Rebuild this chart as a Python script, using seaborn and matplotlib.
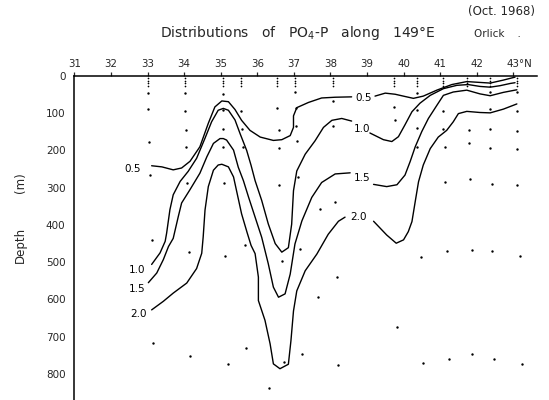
import matplotlib
matplotlib.use("Agg")
import matplotlib.pyplot as plt
import matplotlib.transforms as mtransforms
import pandas as pd
import seaborn as sns

# Isolines of PO4-P (ug-at/l), traced as latitude (deg N) / depth (m).
# Each isoline is split in two where its label sits.
c05_a_lat = [33.11, 33.39, 33.70, 33.93, 34.16, 34.43, 34.66, 34.84, 35.03, 35.21, 35.39, 35.57,
             35.80, 36.08, 36.44, 36.67, 36.90, 36.99, 36.99, 37.08, 37.40, 37.76, 38.13, 38.58]
c05_a_dep = [241, 244, 252, 247, 229, 190, 127, 83, 67, 69, 90, 119,
             146, 164, 173, 171, 160, 138, 107, 85, 71, 59, 57, 56]
c05_b_lat = [39.22, 39.50, 39.77, 40.04, 40.27, 40.54, 40.91, 41.32, 41.73, 42.05, 42.37, 42.73, 43.05]
c05_b_dep = [54, 46, 49, 55, 60, 54, 38, 23, 15, 17, 19, 11, 3]

c10_a_lat = [33.11, 33.34, 33.48, 33.52, 33.61, 33.70, 33.89, 34.11, 34.34, 34.57, 34.75, 34.93,
             35.07, 35.21, 35.39, 35.53, 35.71, 35.83, 35.94, 36.12, 36.30, 36.49, 36.67, 36.85,
             36.94, 36.99, 37.08, 37.31, 37.58, 37.81, 38.04, 38.31, 38.58]
c10_a_dep = [506, 475, 444, 422, 359, 319, 283, 256, 221, 167, 123, 92,
             87, 92, 118, 155, 200, 240, 281, 334, 397, 450, 473, 461,
             398, 308, 255, 210, 174, 138, 119, 114, 121]
c10_b_lat = [39.08, 39.45, 39.68, 39.86, 40.04, 40.23, 40.45, 40.73, 41.09, 41.46, 41.77, 42.09,
             42.37, 42.64, 42.92, 43.05]
c10_b_dep = [153, 171, 176, 163, 131, 96, 73, 52, 34, 25, 23, 28, 30, 26, 20, 18]

c15_a_lat = [33.02, 33.25, 33.43, 33.57, 33.70, 33.84, 33.93, 34.16, 34.43, 34.62, 34.80, 34.98,
             35.07, 35.16, 35.35, 35.48, 35.62, 35.76, 35.94, 36.12, 36.30, 36.44, 36.58, 36.76,
             36.90, 37.03, 37.22, 37.49, 37.76, 38.13, 38.54]
c15_a_dep = [555, 529, 493, 458, 436, 377, 341, 305, 261, 217, 181, 168,
             168, 172, 199, 245, 281, 325, 379, 433, 504, 567, 594, 585,
             532, 451, 389, 326, 286, 263, 260]
c15_b_lat = [39.18, 39.54, 39.82, 40.04, 40.18, 40.32, 40.50, 40.68, 40.91, 41.09, 41.36, 41.73,
             42.09, 42.37, 42.73, 43.10]
c15_b_dep = [291, 297, 292, 266, 230, 190, 149, 114, 79, 52, 43, 38, 48, 53, 44, 37]

c20_a_lat = [33.11, 33.43, 33.70, 34.07, 34.34, 34.48, 34.52, 34.57, 34.66, 34.80, 34.93, 35.03,
             35.21, 35.35, 35.45, 35.57, 35.72, 35.83, 35.94, 36.03, 36.03, 36.21, 36.35, 36.44,
             36.62, 36.85, 36.92, 36.99, 37.08, 37.31, 37.63, 37.94, 38.22, 38.40]
c20_a_dep = [628, 605, 583, 556, 517, 476, 432, 360, 297, 253, 239, 237,
             244, 271, 316, 370, 420, 455, 477, 540, 603, 656, 719, 773,
             786, 774, 711, 631, 577, 523, 478, 425, 390, 379]
c20_b_lat = [39.18, 39.54, 39.80, 40.00, 40.13, 40.23, 40.32, 40.41, 40.54, 40.73, 40.95, 41.18,
             41.36, 41.50, 41.73, 42.09, 42.37, 42.73, 43.10]
c20_b_dep = [390, 427, 449, 440, 418, 391, 337, 284, 239, 195, 164, 146,
             123, 101, 95, 98, 99, 89, 75]

# isoline labels
label_text = ["0.5", "1.0", "1.5", "2.0", "0.5", "1.0", "1.5", "2.0"]
label_lat = [32.59, 32.70, 32.70, 32.75, 38.92, 38.87, 38.86, 38.77]
label_dep = [251, 520, 572, 638, 58, 142, 274, 379]

# sampling points (bottle depths)
dot_lat = [33.00, 33.00, 33.04, 33.07, 33.11, 33.14,
           34.02, 34.02, 34.04, 34.06, 34.07, 34.13, 34.16,
           35.05, 35.05, 35.05, 35.06, 35.08, 35.13, 35.19,
           35.55, 35.57, 35.60, 35.65, 35.69,
           36.55, 36.58, 36.58, 36.60, 36.68, 36.74, 36.32,
           37.03, 37.05, 37.07, 37.08, 37.10, 37.17, 37.22,
           37.72, 37.65,
           38.08, 38.08, 38.13, 38.17, 38.22,
           39.74, 39.77, 39.82,
           40.36, 40.38, 40.37, 40.38, 40.48, 40.52,
           41.09, 41.09, 41.14, 41.14, 41.19, 41.25,
           41.79, 41.79, 41.82, 41.86, 41.88,
           42.37, 42.37, 42.37, 42.37, 42.42, 42.42, 42.48,
           43.10, 43.10, 43.09, 43.09, 43.11, 43.19, 43.25]
dot_dep = [45, 88, 178, 265, 440, 717,
           45, 95, 144, 190, 287, 473, 751,
           47, 92, 143, 190, 287, 484, 773,
           93, 142, 191, 454, 730,
           85, 146, 193, 294, 497, 767, 838,
           43, 85, 134, 175, 270, 465, 747,
           357, 593,
           66, 135, 339, 539, 776,
           82, 118, 673,
           46, 92, 140, 191, 486, 771,
           94, 141, 191, 285, 469, 759,
           146, 181, 276, 466, 746,
           44, 89, 142, 192, 290, 471, 761,
           42, 93, 147, 196, 293, 483, 774]

# near-surface samples at every station
station_lat = [33.00, 34.02, 35.05, 35.55, 36.55, 37.03, 38.08, 39.74, 40.36, 41.09, 41.73, 42.37, 43.10]
surface_dep = [6, 13, 20, 27]

lat_ticks = list(range(31, 44))
depth_ticks = list(range(0, 900, 100))

sns.set_style("white")
plt.rcParams["font.family"] = ["DejaVu Sans"]

fig = plt.figure(figsize=(5.49, 4.0), dpi=100)
ax = fig.add_axes([0.1357, 0.0, 0.8424, 0.81])

segments = [
    (c05_a_lat, c05_a_dep), (c05_b_lat, c05_b_dep),
    (c10_a_lat, c10_a_dep), (c10_b_lat, c10_b_dep),
    (c15_a_lat, c15_a_dep), (c15_b_lat, c15_b_dep),
    (c20_a_lat, c20_a_dep), (c20_b_lat, c20_b_dep),
]
for lat, dep in segments:
    seg = pd.DataFrame({"lat": lat, "depth": dep})
    sns.lineplot(data=seg, x="lat", y="depth", sort=False, estimator=None,
                 color="black", linewidth=1.0, ax=ax)

dots = pd.DataFrame({"lat": dot_lat, "depth": dot_dep})
sns.scatterplot(data=dots, x="lat", y="depth", s=3, color="black", linewidth=0, ax=ax)

surf = pd.DataFrame([(la, d) for la in station_lat for d in surface_dep], columns=["lat", "depth"])
sns.scatterplot(data=surf, x="lat", y="depth", s=1.5, color="black", linewidth=0, ax=ax)

for txt, la, d in zip(label_text, label_lat, label_dep):
    ax.text(la, d, txt, ha="center", va="center", fontsize=7.5, color="black")

ax.set_xlim(31, 43.65)
ax.set_ylim(870, 0)
ax.xaxis.tick_top()
ax.set_xticks(lat_ticks)
ax.set_xticklabels([str(t) for t in lat_ticks])
ax.set_yticks(depth_ticks)
ax.tick_params(axis="x", direction="out", length=3, width=0.9, pad=2, labelsize=7.4)
ax.tick_params(axis="y", direction="out", length=5, width=0.9, pad=1.5, labelsize=7.5)
ax.set_xlabel("")
ax.set_ylabel("")
for side in ["right", "bottom"]:
    ax.spines[side].set_visible(False)
for side in ["left", "top"]:
    ax.spines[side].set_linewidth(1.1)
    ax.spines[side].set_color("black")

trans = mtransforms.blended_transform_factory(ax.transData, ax.transAxes)
ax.text(43.17, 1.037, "°N", transform=trans, ha="left", va="center", fontsize=7.4)

fig.text(298 / 549, 1 - 33 / 400, "Distributions   of   PO$_4$-P   along   149°E",
         ha="center", va="center", fontsize=10)
fig.text(501 / 549, 1 - 12 / 400, "(Oct. 1968)", ha="center", va="center", fontsize=8.5)
fig.text(474 / 549, 1 - 34 / 400, "Orlick    .", ha="left", va="center", fontsize=7.5)
fig.text(20 / 549, 1 - 245 / 400, "Depth", rotation=90, ha="center", va="center", fontsize=8.5)
fig.text(20 / 549, 1 - 183 / 400, "(m)", rotation=90, ha="center", va="center", fontsize=8.5)

fig.savefig("out.png", dpi=100)
